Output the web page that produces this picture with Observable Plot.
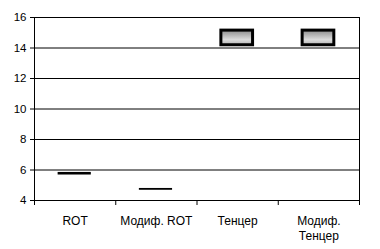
<!DOCTYPE html>
<html>
<head>
<meta charset="utf-8">
<script src="https://cdn.jsdelivr.net/npm/d3@7"></script>
<script src="https://cdn.jsdelivr.net/npm/@observablehq/plot@0.6"></script>
<style>
  html, body { margin: 0; padding: 0; background: #fff; }
  #chart svg { display: block; }
</style>
</head>
<body>
<div id="chart"></div>
<script>
const categories = ["ROT", "Модиф. ROT", "Тенцер", "Модиф. Тенцер"];
const categoryLabels = ["ROT", "Модиф. ROT", "Тенцер", "Модиф.\nТенцер"];
const lowValues = [5.72, 4.72, 14.18, 14.18];
const highValues = [5.79, 4.74, 15.14, 15.14];
const yTicks = [4, 6, 8, 10, 12, 14, 16];

const data = categories.map((c, i) => ({
  category: c,
  label: categoryLabels[i],
  index: i,
  low: lowValues[i],
  high: highValues[i]
}));
const boundaries = d3.range(categories.length + 1);

const chart = Plot.plot({
  width: 380,
  height: 249,
  marginLeft: 34,
  marginRight: 21,
  marginTop: 17,
  marginBottom: 49,
  style: { fontFamily: "Liberation Sans, Arial, sans-serif", fontSize: "12px", background: "#fff", color: "#000" },
  x: { type: "linear", domain: [0, categories.length] },
  y: { domain: [4, 16] },
  marks: [
    Plot.ruleY(yTicks, { stroke: "#000", strokeWidth: 1 }),
    Plot.ruleX([0, categories.length], { y1: 4, y2: 16, stroke: "#000", strokeWidth: 1 }),
    Plot.axisY({ ticks: yTicks, tickSize: 4, tickPadding: 4, label: null, fontSize: 11.5, stroke: "#000" }),
    Plot.axisX({ ticks: boundaries, tickSize: 5, tickFormat: () => "", label: null, stroke: "#000" }),
    Plot.text(data, {
      x: d => d.index + 0.5,
      y: 4,
      text: "label",
      dy: 13,
      lineAnchor: "top",
      lineHeight: 1.3,
      fontSize: 12,
      fill: "#000"
    }),
    Plot.rect(data, {
      x1: d => d.index + 0.3,
      x2: d => d.index + 0.69,
      y1: "low",
      y2: "high",
      fill: "url(#boxGrad)",
      stroke: "#000",
      strokeWidth: d => (d.high - d.low > 0.5 ? 3 : 1.5)
    })
  ]
});

const defs = d3.select(chart).insert("defs", ":first-child");
const grad = defs.append("linearGradient")
  .attr("id", "boxGrad").attr("x1", 0).attr("y1", 0).attr("x2", 0).attr("y2", 1);
grad.append("stop").attr("offset", "0%").attr("stop-color", "#8c8c8c");
grad.append("stop").attr("offset", "65%").attr("stop-color", "#dcdcdc");
grad.append("stop").attr("offset", "100%").attr("stop-color", "#b4b4b4");

document.getElementById("chart").appendChild(chart);
</script>
</body>
</html>
